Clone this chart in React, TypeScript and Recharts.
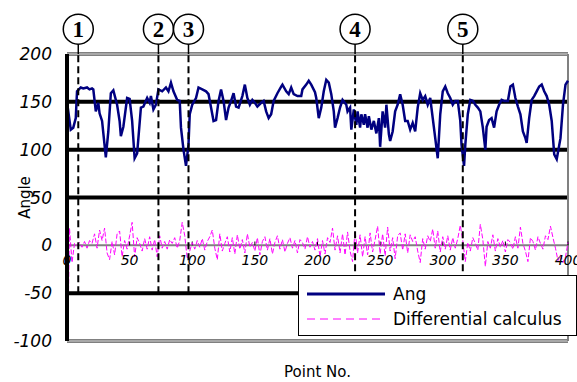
import {
  ComposedChart,
  Line,
  XAxis,
  YAxis,
  CartesianGrid,
  ReferenceLine,
  ReferenceDot,
  Legend,
} from 'recharts'

// Ang (x = point no., y = angle)
const angX = [
  0, 3, 5, 7, 8, 11, 13, 16, 18, 20, 21, 23, 25, 26, 28, 31, 33, 35, 37, 40, 42, 43, 45, 48, 50, 52, 54, 56, 59,
  61, 64, 66, 67, 69, 71, 73, 76, 79, 81, 83, 85, 88, 90, 91, 93, 95, 97, 98, 100, 103, 105, 108, 111, 113, 115,
  117, 119, 121, 123, 125, 127, 129, 131, 133, 135, 137, 140, 142, 144, 146, 148, 150, 152, 155, 157, 159, 161,
  163, 165, 168, 171, 172, 175, 177, 179, 181, 184, 187, 188, 191, 193, 195, 198, 199, 201, 203, 205, 207, 209,
  211, 213, 214, 216, 218, 220, 223, 224, 226, 227, 229, 231, 232, 234, 235, 237, 238, 240, 241, 243, 245, 247,
  249, 250, 252, 254, 255, 257, 258, 260, 262, 264, 266, 268, 270, 272, 274, 276, 278, 280, 282, 284, 286, 288,
  290, 292, 294, 296, 298, 300, 302, 304, 306, 308, 310, 312, 314, 315, 317, 318, 320, 322, 324, 326, 328, 330,
  332, 334, 335, 337, 339, 341, 343, 345, 347, 349, 352, 354, 356, 358, 360, 362, 364, 366, 367, 369, 371, 373,
  375, 377, 379, 381, 383, 385, 387, 389, 391, 394, 396, 398, 400,
]
const angY = [
  150, 121, 123, 133, 161, 165, 164, 165, 163, 164, 163, 140, 149, 138, 130, 92, 119, 159, 162, 147, 130, 114, 124,
  154, 153, 130, 91, 96, 144, 145, 154, 149, 156, 142, 147, 163, 161, 165, 161, 170, 161, 152, 151, 123, 100, 83,
  105, 137, 147, 154, 165, 163, 161, 158, 144, 130, 131, 151, 163, 151, 131, 144, 151, 159, 145, 144, 156, 168,
  154, 147, 152, 149, 145, 149, 151, 140, 133, 137, 151, 159, 166, 168, 161, 158, 165, 158, 156, 156, 163, 168,
  172, 168, 160, 154, 133, 144, 161, 173, 170, 158, 140, 123, 133, 144, 152, 147, 140, 144, 121, 142, 126, 140,
  123, 137, 126, 137, 123, 135, 121, 130, 117, 133, 103, 140, 123, 147, 116, 109, 119, 140, 147, 158, 147, 130,
  130, 121, 128, 119, 144, 159, 152, 156, 147, 154, 133, 112, 91, 137, 161, 166, 159, 154, 147, 151, 151, 130,
  105, 83, 105, 137, 152, 151, 147, 144, 140, 123, 100, 124, 131, 133, 123, 140, 147, 152, 151, 151, 166, 168,
  154, 145, 137, 119, 112, 107, 133, 152, 156, 161, 166, 168, 161, 156, 147, 130, 95, 90, 112, 147, 168, 172,
]
// Differential calculus, one value every 2 points (0, 2, 4 ... 400)
const diffY = [
  -150, 18, -18, 2, 0, 3, -2, 4, -3, 5, 2, 12, -3, 16, 5, 18, -8, -15, 4, -10, 12, 15, -12, 5, -4, 10, 24, -12,
  8, 2, -6, 7, -4, 9, -5, 6, -12, 10, -3, 4, -4, 6, 2, 8, -3, 5, 24, 10, -14, -6, 3, -4, 5, -2, 7, -5, 4, 9, 16,
  -3, -15, 12, -6, 2, 9, -7, 8, -9, 11, -4, 6, -8, 12, -2, 3, -6, 8, -10, 4, 9, -5, 7, -9, 3, 10, -4, 6, -7, 2,
  8, -3, 5, -8, 6, 3, -4, 9, -2, 4, -5, 7, -12, 5, -9, 8, 3, 18, -5, 10, -8, 12, -10, 14, -6, -17, 15, -8, 11,
  -12, 9, -10, 13, -7, 6, 20, -9, 12, -11, 19, -6, 8, -14, 10, 13, -5, 12, -8, 11, 4, 9, -6, -18, 7, -4, 10, 4,
  17, -3, 15, -7, 9, -4, 10, -5, 8, -3, 7, 21, 5, -17, 3, -6, 8, 2, -5, 22, 6, -22, 4, -3, 11, -6, 7, -2, 5, -7,
  6, 3, -4, 9, -3, 19, 2, -6, -17, 8, 4, -5, 9, 2, -4, 10, 6, 20, 8, -3, -16, -10, -18, -12, 3,
]

const yTicks = [-100, -50, 0, 50, 100, 150, 200]
const xTicks = [0, 50, 100, 150, 200, 250, 300, 350, 400]
const gridValues = [-50, 50, 100, 150]
const markerX = [9, 73, 97, 230, 316]
const markerNo = ['1', '2', '3', '4', '5']

const angData = angX.map((x, i) => ({ x, ang: angY[i] }))
const diffData = diffY.map((v, i) => ({ x: i * 2, diff: v }))

const FONT = '"DejaVu Sans", sans-serif'

function LegendBox() {
  return (
    <div
      style={{
        width: 279,
        height: 61,
        boxSizing: 'border-box',
        border: '1px solid #000',
        background: '#fff',
        fontFamily: FONT,
        fontSize: 17,
        color: '#000',
        paddingTop: 6,
      }}
    >
      <div style={{ display: 'flex', alignItems: 'center', height: 24 }}>
        <svg width={88} height={10} style={{ marginLeft: 6 }}>
          <line x1={2} y1={5} x2={80} y2={5} stroke="#000080" strokeWidth={3} />
        </svg>
        <span>Ang</span>
      </div>
      <div style={{ display: 'flex', alignItems: 'center', height: 26 }}>
        <svg width={88} height={10} style={{ marginLeft: 6 }}>
          <line x1={2} y1={5} x2={80} y2={5} stroke="#FF00FF" strokeWidth={1} strokeDasharray="8 5" />
        </svg>
        <span>Differential calculus</span>
      </div>
    </div>
  )
}

export default function App() {
  return (
    <div style={{ width: 577, height: 382, background: '#fff' }}>
      <style>{'body{margin:0}'}</style>
      <ComposedChart width={577} height={382} margin={{ top: 54, right: 9, bottom: 0, left: 0 }}>
        <CartesianGrid
          horizontal
          vertical={false}
          horizontalValues={gridValues}
          stroke="#000"
          strokeWidth={4}
        />
        <XAxis
          type="number"
          dataKey="x"
          domain={[0, 400]}
          ticks={xTicks}
          tick={false}
          tickLine={false}
          axisLine={false}
          height={41}
          label={({ viewBox }: any) => (
            <text
              x={viewBox.x + viewBox.width / 2}
              y={viewBox.y + 36}
              textAnchor="middle"
              fontFamily={FONT}
              fontSize={15}
              fill="#000"
            >
              Point No.
            </text>
          )}
        />
        <YAxis
          type="number"
          domain={[-100, 200]}
          ticks={yTicks}
          allowDataOverflow
          width={67}
          tickSize={0}
          tickMargin={15}
          axisLine={{ stroke: '#000', strokeWidth: 4 }}
          tick={{ fontFamily: FONT, fontStyle: 'italic', fontSize: 17, fill: '#000' }}
          label={({ viewBox }: any) => (
            <text
              x={25}
              y={viewBox.y + viewBox.height / 2}
              transform={`rotate(-90 25 ${viewBox.y + viewBox.height / 2})`}
              textAnchor="middle"
              dominantBaseline="central"
              fontFamily={FONT}
              fontSize={15}
              fill="#000"
            >
              Angle
            </text>
          )}
        />
        <ReferenceLine y={200} stroke="#808080" strokeWidth={4} />
        <ReferenceLine y={200} stroke="#d0d0d0" strokeWidth={1} />
        <ReferenceLine y={-100} stroke="#808080" strokeWidth={4} />
        <ReferenceLine y={-100} stroke="#d0d0d0" strokeWidth={1} />
        <ReferenceLine x={400} stroke="#808080" strokeWidth={2} />
        <ReferenceLine y={0} stroke="#808080" strokeWidth={2} />
        {xTicks.map((t) => (
          <ReferenceLine
            key={`xt${t}`}
            segment={[
              { x: t, y: 0 },
              { x: t, y: 4 },
            ]}
            stroke="#000"
            strokeWidth={1}
            label={{
              value: String(t),
              position: 'bottom',
              offset: 10,
              fontFamily: FONT,
              fontStyle: 'italic',
              fontSize: 14,
              fill: '#000',
            }}
          />
        ))}
        <Line
          data={diffData}
          dataKey="diff"
          type="linear"
          stroke="#FF00FF"
          strokeWidth={1}
          strokeDasharray="5 2"
          dot={false}
          isAnimationActive={false}
          name="Differential calculus"
        />
        <Line
          data={angData}
          dataKey="ang"
          type="linear"
          stroke="#000080"
          strokeWidth={2.5}
          dot={false}
          isAnimationActive={false}
          name="Ang"
        />
        {markerX.map((m) => (
          <ReferenceLine
            key={`ml${m}`}
            segment={[
              { x: m, y: -50 },
              { x: m, y: 200 },
            ]}
            stroke="#000"
            strokeWidth={2}
            strokeDasharray="7 4"
          />
        ))}
        {markerX.map((m) => (
          <ReferenceLine
            key={`ms${m}`}
            segment={[
              { x: m, y: 200 },
              { x: m, y: 212 },
            ]}
            ifOverflow="visible"
            stroke="#000"
            strokeWidth={1.5}
          />
        ))}
        {markerX.map((m, i) => (
          <ReferenceDot
            key={`md${m}`}
            x={m}
            y={226}
            r={15}
            ifOverflow="visible"
            fill="#fff"
            stroke="#000"
            strokeWidth={1.5}
            label={{
              value: markerNo[i],
              position: 'center',
              fontFamily: '"Liberation Serif", serif',
              fontWeight: 'bold',
              fontSize: 23,
              fill: '#000',
            }}
          />
        ))}
        <Legend
          layout="horizontal"
          verticalAlign="middle"
          align="center"
          content={() => <LegendBox />}
          wrapperStyle={{ left: 298, top: 275, width: 279, height: 61 }}
        />
      </ComposedChart>
    </div>
  )
}
